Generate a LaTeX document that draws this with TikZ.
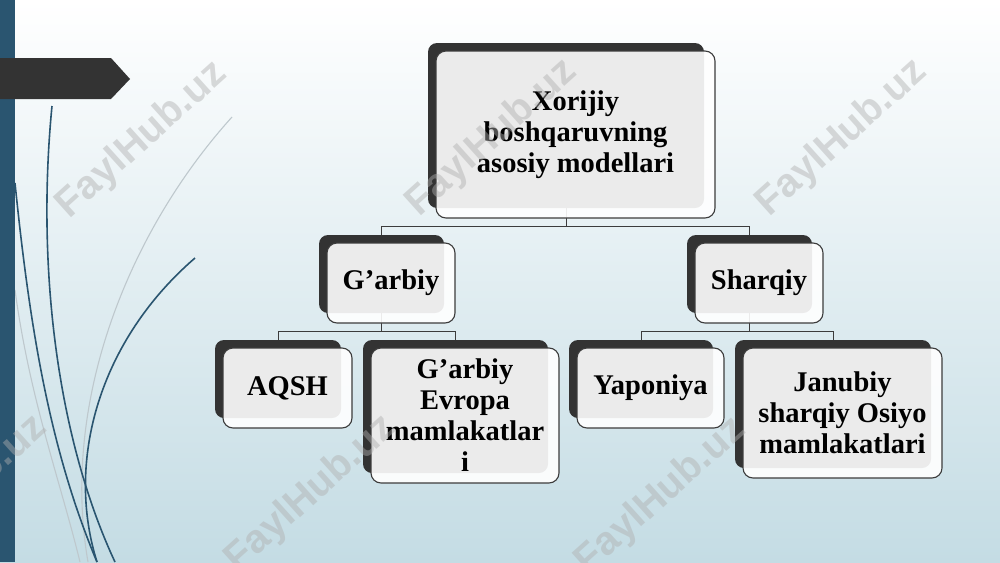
\documentclass[tikz,border=0pt]{standalone}
\usepackage{fontspec}
\setmainfont{Liberation Serif}
\newfontfamily\wmfont{Liberation Sans}
\pgfdeclarelayer{bg}
\pgfdeclarelayer{links}
\pgfsetlayers{bg,links,main}
\definecolor{barblue}{RGB}{42,85,112}
\definecolor{darkbox}{RGB}{51,51,51}
\definecolor{edgegray}{RGB}{60,60,60}
\definecolor{bgbottom}{RGB}{196,220,228}
\definecolor{faintline}{RGB}{190,200,205}
\definecolor{wmgray}{RGB}{175,175,175}
\begin{document}
\begin{tikzpicture}[x=1pt,y=-1pt,
  backbox/.style={fill=darkbox, rounded corners=9pt, anchor=north west, inner sep=0pt, outer sep=0pt},
  frontbox/.style={fill=white, fill opacity=0.9, text opacity=1, draw=edgegray, line width=1.1pt,
    rounded corners=10pt, anchor=north west, inner sep=0pt, outer sep=0pt, align=center,
    font=\bfseries\fontsize{28.5}{31}\selectfont},
  link/.style={draw=edgegray, line width=0.9pt},
  swirl/.style={draw=barblue, line width=1.6pt},
  faint/.style={draw=faintline, line width=1.1pt},
  wmark/.style={font=\wmfont\bfseries\fontsize{40}{40}\selectfont, text=wmgray, opacity=0.45, rotate=42}]
\useasboundingbox (0,0) rectangle (1000,562);
\begin{pgfonlayer}{bg}
  \shade[top color=white, bottom color=bgbottom] (0,0) rectangle (1000,562);
  % faint curves
  \draw[faint] (232,117) .. controls (130,230) and (60,400) .. (88,562);
  \draw[faint] (15,290) .. controls (30,400) and (60,480) .. (80,562);
  % dark swirls
  \draw[swirl] (52,106) .. controls (36,270) and (58,440) .. (115,562);
  \draw[swirl] (15,183) .. controls (30,330) and (50,450) .. (97,562);
  \draw[swirl] (195,258) .. controls (100,340) and (65,460) .. (97,562);
  % left bar and arrow
  \fill[barblue] (0,0) rectangle (15,562);
  \fill[darkbox] (0,58) -- (111,58) -- (130,79) -- (111,99) -- (0,99) -- cycle;
\end{pgfonlayer}

% back (dark) boxes
\node[backbox, minimum width=276pt, minimum height=165pt] (topB) at (428,43) {};
\node[backbox, minimum width=125pt, minimum height=78pt] (garB) at (319,235) {};
\node[backbox, minimum width=125pt, minimum height=78pt] (shaB) at (687,235) {};
\node[backbox, minimum width=126pt, minimum height=78pt] (aqB) at (215,340) {};
\node[backbox, minimum width=185pt, minimum height=133pt] (evB) at (363,340) {};
\node[backbox, minimum width=144pt, minimum height=78pt] (yapB) at (569,340) {};
\node[backbox, minimum width=196pt, minimum height=128pt] (janB) at (735,340) {};

% front boxes
\node[frontbox, minimum width=279pt, minimum height=167pt] (top) at (436,51) {Xorijiy\\boshqaruvning\\asosiy modellari};
\node[frontbox, minimum width=128pt, minimum height=80pt] (gar) at (327,243) {G’arbiy};
\node[frontbox, minimum width=128pt, minimum height=80pt] (sha) at (695,243) {Sharqiy};
\node[frontbox, minimum width=129pt, minimum height=80pt] (aq) at (223,348) {AQSH};
\node[frontbox, minimum width=188pt, minimum height=135pt] (ev) at (371,348) {G’arbiy\\Evropa\\mamlakatlar\\i};
\node[frontbox, minimum width=147pt, minimum height=80pt] (yap) at (577,348) {Yaponiya};
\node[frontbox, minimum width=199pt, minimum height=130pt] (jan) at (743,348) {Janubiy\\sharqiy Osiyo\\mamlakatlari};

% connectors
\begin{pgfonlayer}{links}
  \draw[link] (topB.south) -- ++(0,18) -| (garB.north);
  \draw[link] (topB.south) ++(0,18) -| (shaB.north);
  \draw[link] (garB.south) -- ++(0,18) -| (aqB.north);
  \draw[link] (garB.south) ++(0,18) -| (evB.north);
  \draw[link] (shaB.south) -- ++(0,18) -| (yapB.north);
  \draw[link] (shaB.south) ++(0,18) -| (janB.north);
\end{pgfonlayer}

% watermarks
\node[wmark] (w1) at (142,140) {FaylHub.uz};
\node[wmark] (w2) at (492,138) {FaylHub.uz};
\node[wmark] (w3) at (842,138) {FaylHub.uz};
\node[wmark] (w4) at (-38,494) {FaylHub.uz};
\node[wmark] (w5) at (311,494) {FaylHub.uz};
\node[wmark] (w6) at (661,496) {FaylHub.uz};
\end{tikzpicture}
\end{document}
